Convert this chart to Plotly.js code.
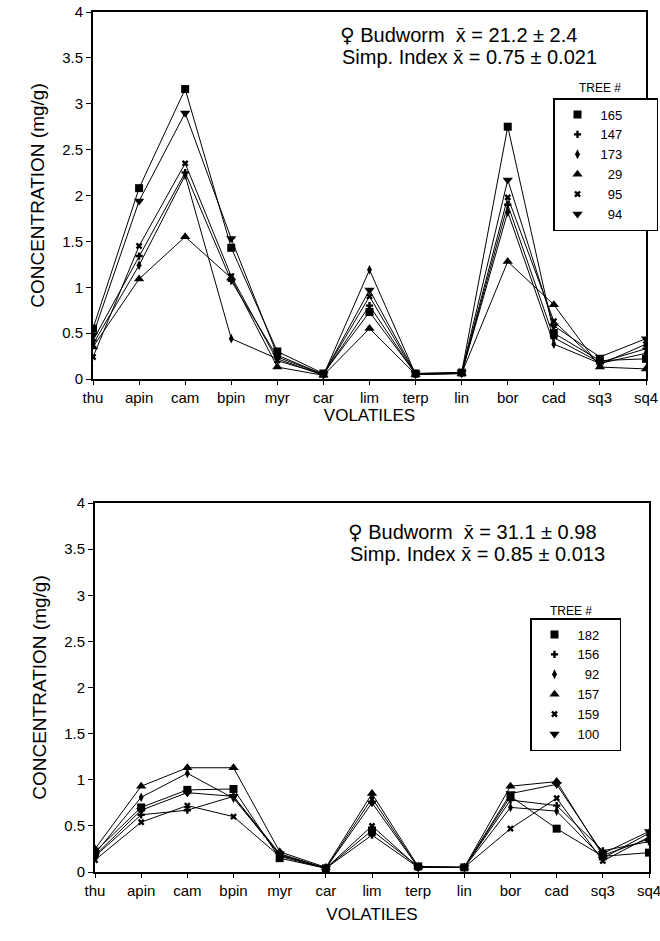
<!DOCTYPE html>
<html>
<head>
<meta charset="utf-8">
<script src="https://cdn.plot.ly/plotly-3.0.1.min.js"></script>
<style>html,body{margin:0;padding:0;background:#fff}#chart{width:660px;height:941px}</style>
</head>
<body>
<div id="chart"></div>
<script>
const categories = ['thu','apin','cam','bpin','myr','car','lim','terp','lin','bor','cad','sq3','sq4'];

// Top panel (female budworm mean 21.2)
const topTrees = ['165','147','173','29','95','94'];
const top165 = [0.55, 2.08, 3.16, 1.43, 0.30, 0.06, 0.73, 0.06, 0.07, 2.75, 0.50, 0.20, 0.22];
const top147 = [0.42, 1.34, 2.25, 1.07, 0.24, 0.05, 0.80, 0.05, 0.06, 1.90, 0.45, 0.18, 0.33];
const top173 = [0.38, 1.24, 2.22, 0.44, 0.22, 0.04, 1.19, 0.05, 0.06, 1.82, 0.38, 0.17, 0.28];
const top29  = [0.35, 1.09, 1.55, 1.10, 0.13, 0.04, 0.55, 0.05, 0.06, 1.28, 0.81, 0.13, 0.11];
const top95  = [0.24, 1.45, 2.35, 1.12, 0.20, 0.05, 0.90, 0.05, 0.07, 1.98, 0.63, 0.16, 0.38];
const top94  = [0.48, 1.94, 2.90, 1.53, 0.26, 0.05, 0.97, 0.06, 0.07, 2.17, 0.58, 0.24, 0.44];

// Bottom panel (female budworm mean 31.1)
const botTrees = ['182','156','92','157','159','100'];
const bot182 = [0.22, 0.70, 0.89, 0.90, 0.15, 0.04, 0.45, 0.06, 0.05, 0.82, 0.47, 0.17, 0.21];
const bot156 = [0.17, 0.62, 0.67, 0.82, 0.18, 0.04, 0.40, 0.05, 0.05, 0.78, 0.72, 0.23, 0.33];
const bot92  = [0.20, 0.81, 1.07, 0.80, 0.19, 0.04, 0.80, 0.05, 0.05, 0.70, 0.66, 0.15, 0.42];
const bot157 = [0.25, 0.93, 1.13, 1.13, 0.22, 0.05, 0.85, 0.06, 0.05, 0.93, 0.98, 0.18, 0.36];
const bot159 = [0.13, 0.54, 0.72, 0.60, 0.17, 0.04, 0.50, 0.05, 0.05, 0.47, 0.80, 0.12, 0.38];
const bot100 = [0.18, 0.67, 0.86, 0.82, 0.20, 0.04, 0.75, 0.05, 0.05, 0.85, 0.95, 0.20, 0.44];

const yTicks = [0, 0.5, 1, 1.5, 2, 2.5, 3, 3.5, 4];
const yTickText = ['0','0.5','1','1.5','2','2.5','3','3.5','4'];

const symbols = [
  {symbol:'square', size:8},
  {symbol:'cross', size:6},
  {symbol:'diamond-tall', size:7},
  {symbol:'triangle-up', size:9},
  {symbol:'x', size:6},
  {symbol:'triangle-down', size:9}
];

const FONT = 'Liberation Sans, Arial, sans-serif';
const traces = [];
const topSeries = [top165, top147, top173, top29, top95, top94];
const botSeries = [bot182, bot156, bot92, bot157, bot159, bot100];
const pad = (s, n) => (s.length < 3 ? '\u2007'.repeat(3 - s.length) + s : s) + '\u2007'.repeat(n);

topSeries.forEach((vals, i) => {
  traces.push({x: categories, y: vals, xaxis:'x', yaxis:'y', mode:'lines+markers',
    line:{color:'#000', width:1}, marker:{color:'#000', symbol:symbols[i].symbol, size:symbols[i].size},
    showlegend:false, hoverinfo:'skip'});
});
topSeries.forEach((vals, i) => {
  traces.push({x:[null], y:[null], xaxis:'x', yaxis:'y', mode:'markers', name: pad(topTrees[i], 4),
    marker:{color:'#000', symbol:symbols[i].symbol, size:symbols[i].size}, legend:'legend', showlegend:true});
});
botSeries.forEach((vals, i) => {
  traces.push({x: categories, y: vals, xaxis:'x2', yaxis:'y2', mode:'lines+markers',
    line:{color:'#000', width:1}, marker:{color:'#000', symbol:symbols[i].symbol, size:symbols[i].size},
    showlegend:false, hoverinfo:'skip'});
});
botSeries.forEach((vals, i) => {
  traces.push({x:[null], y:[null], xaxis:'x2', yaxis:'y2', mode:'markers', name: pad(botTrees[i], 2),
    marker:{color:'#000', symbol:symbols[i].symbol, size:symbols[i].size}, legend:'legend2', showlegend:true});
});

const H = 941, W = 660;
const py = v => (H - v) / H;
const px = v => v / W;

function xAx(domain, anchor, standoff) {
  return {domain: domain, anchor: anchor, type:'category', categoryorder:'array', categoryarray: categories,
    range:[0, 12], showline:true, mirror:true, linecolor:'#000', linewidth:2, ticks:'outside', ticklen:4,
    tickcolor:'#000', showgrid:false, zeroline:false, tickfont:{family:FONT, size:15, color:'#000'},
    title:{text:'VOLATILES', font:{family:FONT, size:17, color:'#000'}, standoff:standoff}};
}
function yAx(domain, anchor) {
  return {domain: domain, anchor: anchor, range:[0, 4], tickvals: yTicks, ticktext: yTickText,
    showline:true, mirror:true, linecolor:'#000', linewidth:2, ticks:'outside', ticklen:5,
    tickcolor:'#000', showgrid:false, zeroline:false, tickfont:{family:FONT, size:15, color:'#000'},
    title:{text:'CONCENTRATION (mg/g)', font:{family:FONT, size:19, color:'#000'}, standoff:12}};
}

const legendBase = {bgcolor:'#fff', bordercolor:'#000', borderwidth:1.5, font:{family:FONT, size:13, color:'#000'},
  xanchor:'left', yanchor:'top', itemwidth:36, tracegroupgap:0};

const annFont = {family:FONT, size:20, color:'#000'};
const fem = '<span style="font-family:DejaVu Sans">\u2640</span>';
const layout = {
  width: W, height: H, margin:{l:0, r:0, t:0, b:0}, paper_bgcolor:'#fff', plot_bgcolor:'#fff',
  xaxis: xAx([px(93), px(646)], 'y', 3),
  yaxis: yAx([py(379), py(12)], 'x'),
  xaxis2: xAx([px(95), px(649)], 'y2', 10),
  yaxis2: yAx([py(872), py(503)], 'x2'),
  legend: Object.assign({}, legendBase, {x: px(553), y: py(98)}),
  legend2: Object.assign({}, legendBase, {x: px(530), y: py(618)}),
  annotations: [
    {xref:'paper', yref:'paper', x:px(338), y:py(35), xanchor:'left', yanchor:'middle', showarrow:false,
     text: fem + ' Budworm  x\u0304 = 21.2 \u00b1 2.4', font:annFont},
    {xref:'paper', yref:'paper', x:px(340), y:py(57), xanchor:'left', yanchor:'middle', showarrow:false,
     text:'Simp. Index x\u0304 = 0.75 \u00b1 0.021', font:annFont},
    {xref:'paper', yref:'paper', x:px(600), y:py(88), xanchor:'center', yanchor:'middle', showarrow:false,
     text:'TREE #', font:{family:FONT, size:12, color:'#000'}},
    {xref:'paper', yref:'paper', x:px(346), y:py(532), xanchor:'left', yanchor:'middle', showarrow:false,
     text: fem + ' Budworm  x\u0304 = 31.1 \u00b1 0.98', font:annFont},
    {xref:'paper', yref:'paper', x:px(348), y:py(554), xanchor:'left', yanchor:'middle', showarrow:false,
     text:'Simp. Index x\u0304 = 0.85 \u00b1 0.013', font:annFont},
    {xref:'paper', yref:'paper', x:px(571), y:py(611), xanchor:'center', yanchor:'middle', showarrow:false,
     text:'TREE #', font:{family:FONT, size:12, color:'#000'}}
  ]
};

Plotly.newPlot('chart', traces, layout, {staticPlot:true, displayModeBar:false});
</script>
</body>
</html>
